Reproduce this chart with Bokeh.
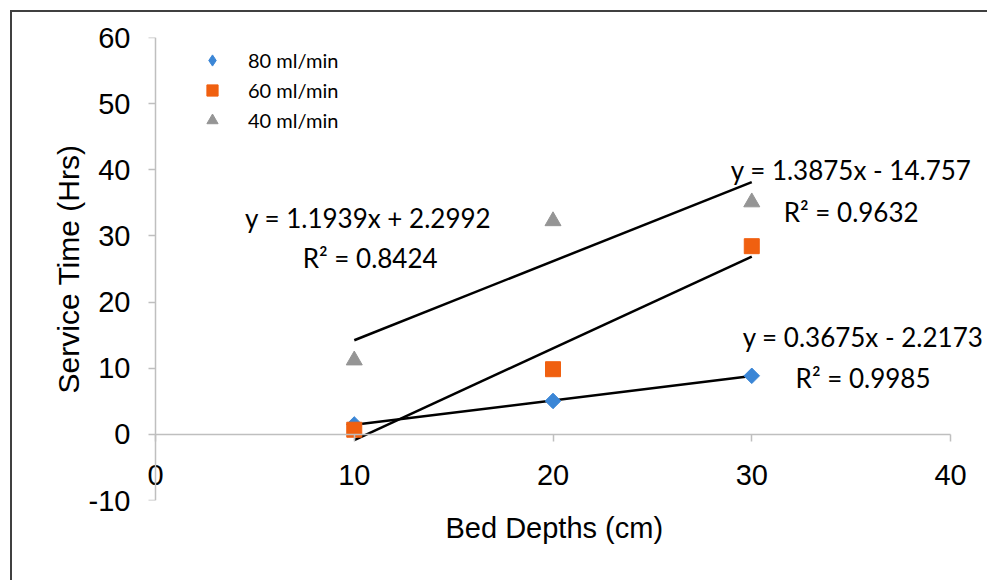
import numpy as np
from bokeh.plotting import figure
from bokeh.models import (Range1d, LinearAxis, Legend, LegendItem, Label, Title,
                          SingleIntervalTicker, FixedTicker, BoxAnnotation)
from bokeh.embed import file_html
from bokeh.resources import INLINE

# ---- data ----
bed_depth = [10, 20, 30]
flow_80 = [1.5, 5.05, 8.85]
flow_60 = [0.7, 9.85, 28.45]
flow_40 = [11.2, 32.25, 35.1]
series_names = ["80 ml/min", "60 ml/min", "40 ml/min"]
series_colors = ["#3b86d6", "#f06010", "#959595"]

eq_texts = ["y = 1.1939x + 2.2992", "R\u00b2 = 0.8424",
            "y = 1.3875x - 14.757", "R\u00b2 = 0.9632",
            "y = 0.3675x - 2.2173", "R\u00b2 = 0.9985"]
eq_x = [10.7, 10.8, 35.0, 35.0, 35.6, 35.6]
eq_y = [32.7, 26.6, 39.9, 33.6, 14.7, 8.5]

x_ticks = [0, 10, 20, 30, 40]
y_ticks = [-10, 0, 10, 20, 30, 40, 50, 60]
x_min, x_max = 0, 40
y_min, y_max = -10, 60

FONT_AX = "Liberation Sans"
FONT_TXT = "Lato"
AX_GRAY = "#bfbfbf"

# frame slightly wider than the 0..40 data span so that edge labels are not clipped
x_pad_left = 0.755
x_pad_right = 1.76

p = figure(width=977, height=570,
           x_range=Range1d(x_min - x_pad_left, x_max + x_pad_right),
           y_range=Range1d(y_min, y_max),
           output_backend="svg", toolbar_location=None,
           min_border_left=128, min_border_right=4, min_border_top=25,
           min_border_bottom=82, x_axis_type=None, y_axis_type=None)
p.styles = {"margin-left": "10px", "margin-top": "10px",
            "border-left": "2px solid #404040", "border-top": "2px solid #404040"}
p.outline_line_color = None
p.background_fill_color = "white"
p.border_fill_color = "white"

yticker = SingleIntervalTicker(interval=10, num_minor_ticks=5)
overrides = {v: str(v) for v in y_ticks}

# y tick labels + title (at frame left)
ylab = LinearAxis(ticker=yticker)
ylab.axis_line_color = None
ylab.major_tick_line_color = None
ylab.minor_tick_line_color = None
ylab.major_tick_out = 0
ylab.major_tick_in = 0
ylab.major_label_overrides = overrides
ylab.major_label_text_font = FONT_AX
ylab.major_label_text_font_size = "29px"
ylab.major_label_text_color = "#000000"
ylab.major_label_standoff = 6
ylab.axis_label = "Service Time (Hrs)"
ylab.axis_label_text_font = FONT_AX
ylab.axis_label_text_font_size = "30px"
ylab.axis_label_text_font_style = "normal"
ylab.axis_label_text_color = "#000000"
ylab.axis_label_standoff = 1
p.add_layout(ylab, "left")

# y axis line at x = 0
yax = LinearAxis(ticker=yticker, fixed_location=0, bounds=(y_min, y_max))
yax.axis_line_color = AX_GRAY
yax.axis_line_width = 1.5
yax.major_tick_line_color = AX_GRAY
yax.major_tick_line_width = 1.5
yax.major_tick_out = 7
yax.major_tick_in = 0
yax.minor_tick_line_color = None
yax.major_label_text_font_size = "0px"
yax.major_label_text_color = None
p.add_layout(yax, "left")

# x axis at y = 0
xax = LinearAxis(ticker=FixedTicker(ticks=x_ticks), fixed_location=0, bounds=(x_min, x_max))
xax.axis_line_color = AX_GRAY
xax.axis_line_width = 1.5
xax.major_tick_line_color = AX_GRAY
xax.major_tick_line_width = 1.5
xax.major_tick_out = 7
xax.major_tick_in = 0
xax.minor_tick_line_color = None
xax.major_label_text_font = FONT_AX
xax.major_label_text_font_size = "29px"
xax.major_label_text_color = "#000000"
xax.major_label_standoff = 24
p.add_layout(xax, "below")

# x axis title, left-aligned so that it is centred under the 0..40 span
xt = Title(text="Bed Depths (cm)", align="left", offset=305,
           text_font=FONT_AX, text_font_size="29px", text_font_style="normal",
           text_color="#000000", standoff=18)
p.add_layout(xt, "below")

# horizontal grid
p.ygrid.ticker = yticker
p.ygrid.grid_line_color = "#d9d9d9"
p.ygrid.grid_line_width = 2
p.ygrid.minor_grid_line_color = "#f0f0f0"
p.ygrid.minor_grid_line_width = 2
p.xgrid.grid_line_color = None

# keep grid lines within the 0..40 plot area
p.add_layout(BoxAnnotation(right=x_min, fill_color="white", fill_alpha=1,
                           line_color=None, level="underlay"))
p.add_layout(BoxAnnotation(left=x_max, fill_color="white", fill_alpha=1,
                           line_color=None, level="underlay"))

# trend lines (least squares from the data)
xs_line = np.array([bed_depth[0], bed_depth[-1]], dtype=float)
for ys in (flow_80, flow_60, flow_40):
    m, b = np.polyfit(bed_depth, ys, 1)
    p.line(xs_line, m * xs_line + b, line_color="black", line_width=2.5)

# 80 ml/min: diamond (legend glyph) under a rotated square of equal width/height
r80 = p.scatter(bed_depth, flow_80, marker="diamond", size=14, color=series_colors[0])
p.scatter(bed_depth, flow_80, marker="square", angle=np.pi / 4, size=11,
          color=series_colors[0])
r60 = p.scatter(bed_depth, flow_60, marker="square", size=15, color=series_colors[1])
r40 = p.scatter(bed_depth, flow_40, marker="triangle", size=16, color=series_colors[2])

legend = Legend(items=[LegendItem(label=series_names[0], renderers=[r80]),
                       LegendItem(label=series_names[1], renderers=[r60]),
                       LegendItem(label=series_names[2], renderers=[r40])],
                location=(58, 366))
legend.padding = 0
legend.margin = 0
legend.spacing = 2
legend.glyph_width = 28
legend.glyph_height = 28
legend.label_height = 28
legend.label_standoff = 22
legend.label_text_font = FONT_TXT
legend.label_text_font_size = "20px"
legend.label_text_color = "#000000"
legend.border_line_color = None
legend.background_fill_alpha = 0
p.add_layout(legend, "center")

for t, x, y in zip(eq_texts, eq_x, eq_y):
    p.add_layout(Label(x=x, y=y, text=t, text_align="center", text_baseline="middle",
                       text_font=FONT_TXT, text_font_size="26px", text_color="#000000"))

open("out.html", "w").write(file_html(p, INLINE))
